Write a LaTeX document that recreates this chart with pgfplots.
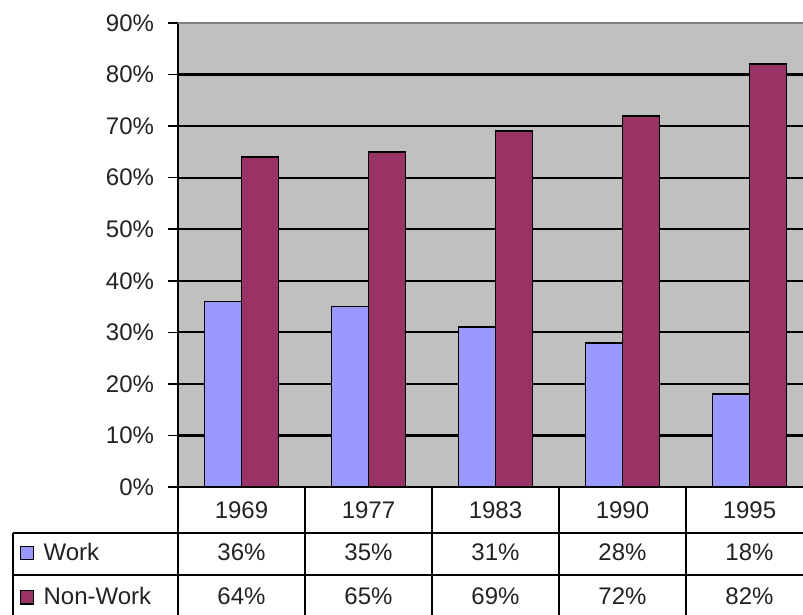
\documentclass[border=0pt]{standalone}
\usepackage{fontspec}
\setmainfont{Liberation Sans}
\usepackage{pgfplots}
\usepackage{pgfplotstable}
\pgfplotsset{compat=1.18}
\definecolor{work}{HTML}{9999FF}
\definecolor{nonwork}{HTML}{993366}
\definecolor{plotbg}{HTML}{C0C0C0}
\definecolor{txt}{HTML}{222222}

\pgfplotstableread{
x year work nonwork
0 1969 36 64
1 1977 35 65
2 1983 31 69
3 1990 28 72
4 1995 18 82
}\shares

\begin{document}
\begin{tikzpicture}[font=\fontsize{18}{21}\selectfont, text=txt]
\useasboundingbox (0,0) rectangle (602.25pt,460.5pt);
\clip (0,0) rectangle (602.25pt,460.5pt);
\begin{axis}[
  at={(133.5pt,95.25pt)}, anchor=south west,
  scale only axis, width=476.25pt, height=348pt,
  xmin=-0.5, xmax=4.5, ymin=0, ymax=90,
  axis lines*=left,
  axis line style={black, line width=1.1pt},
  axis background/.style={fill=plotbg},
  ytick={0,10,...,90},
  yticklabel={\pgfmathprintnumber{\tick}\%},
  yticklabel style={xshift=-7pt},
  tick align=outside, major tick length=7.5pt,
  ytick style={black, line width=1.1pt},
  xtick=data, xticklabels from table={\shares}{year},
  xtick style={draw=none},
  xticklabel style={anchor=center, yshift=-10pt},
  ymajorgrids, major grid style={black, line width=1.7pt},
  /pgf/number format/assume math mode=true,
  clip=false,
  every node near coord/.append style={anchor=center, text=txt},
]
% bars
\addplot[ybar, bar width=27.75pt, bar shift=-13.875pt, fill=work, draw=black, line width=1.3pt]
  table[x=x, y=work]{\shares};
\addplot[ybar, bar width=27.75pt, bar shift=13.875pt, fill=nonwork, draw=black, line width=1.3pt]
  table[x=x, y=nonwork]{\shares};
\draw[gray, line width=1.7pt] (rel axis cs:0,1) -- (rel axis cs:1,1);

% data table under the chart
\addplot[draw=none, mark=none, point meta=explicit,
  nodes near coords={\pgfmathprintnumber{\pgfplotspointmeta}\%}]
  table[x=x, y expr=-12.6, meta=work]{\shares};
\addplot[draw=none, mark=none, point meta=explicit,
  nodes near coords={\pgfmathprintnumber{\pgfplotspointmeta}\%}]
  table[x=x, y expr=-21.2, meta=nonwork]{\shares};

\draw[black, line width=1.1pt] (axis cs:-1.799,-8.92) -- (axis cs:4.6,-8.92);
\draw[black, line width=1.1pt] (axis cs:-1.799,-17.07) -- (axis cs:4.6,-17.07);
\draw[black, line width=1.1pt] (axis cs:-1.799,-8.92) -- (axis cs:-1.799,-26);
\pgfplotsinvokeforeach{-0.5,0.5,1.5,2.5,3.5}{
  \draw[black, line width=1.1pt] (axis cs:#1,0) -- (axis cs:#1,-26);
}
\draw[black, line width=0.8pt, fill=work] (axis cs:-1.69,-12.8) ++(-5pt,-5pt) rectangle ++(10pt,10pt);
\draw[black, line width=0.8pt, fill=nonwork] (axis cs:-1.69,-21.4) ++(-5pt,-5pt) rectangle ++(10pt,10pt);
\node[anchor=west, inner sep=0pt] at (axis cs:-1.56,-12.6) {Work};
\node[anchor=west, inner sep=0pt] at (axis cs:-1.56,-21.2) {Non-Work};
\end{axis}
\end{tikzpicture}
\end{document}
